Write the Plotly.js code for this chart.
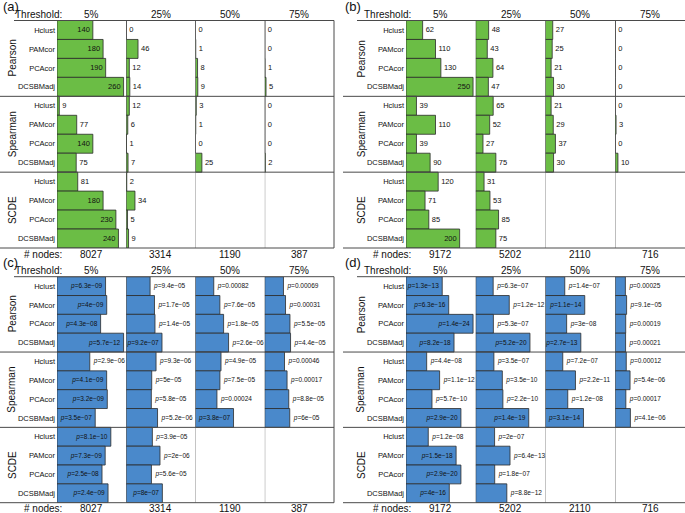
<!DOCTYPE html>
<html><head><meta charset="utf-8">
<script src="https://cdn.plot.ly/plotly-3.0.1.min.js"></script>
<style>html,body{margin:0;padding:0;background:#fff}</style>
</head><body><div id="chart" style="width:685px;height:513px"></div>
<script>
// ---------- data ----------
const methods = ["Hclust","PAMcor","PCAcor","DCSBMadj"];
const groups = ["Pearson","Spearman","SCDE"];
const thresholds = ["5%","25%","50%","75%"];
const nodesA = [8027,3314,1190,387];
const nodesB = [9172,5202,2110,716];

// rows: Pearson(Hclust,PAMcor,PCAcor,DCSBMadj), Spearman(...), SCDE(...)
const countsA5  = [140,180,190,260, 9,77,140,75, 81,180,230,240];
const countsA25 = [0,46,12,14, 12,6,1,7, 2,34,5,9];
const countsA50 = [0,1,8,9, 3,1,0,25, null,null,null,null];
const countsA75 = [0,0,1,5, 0,0,0,2, null,null,null,null];

const countsB5  = [62,110,130,250, 39,110,39,90, 120,71,85,200];
const countsB25 = [48,43,64,47, 65,52,27,75, 31,53,85,75];
const countsB50 = [27,25,21,30, 21,29,37,30, null,null,null,null];
const countsB75 = [0,0,0,0, 0,3,0,10, null,null,null,null];

const pvalsC5  = ["6.3e-09","4e-09","4.3e-08","5.7e-12", "2.9e-06","4.1e-09","3.2e-09","3.5e-07", "8.1e-10","7.3e-09","2.5e-08","2.4e-09"];
const pvalsC25 = ["9.4e-05","1.7e-05","1.4e-05","9.2e-07", "9.3e-06","5e-05","5.8e-05","5.2e-06", "3.9e-05","2e-06","5.6e-05","8e-07"];
const pvalsC50 = ["0.00082","7.6e-05","1.8e-05","2.6e-06", "4.9e-05","7.5e-05","0.00024","3.8e-07", null,null,null,null];
const pvalsC75 = ["0.00069","0.00031","5.5e-05","4.4e-05", "0.00046","0.00017","8.8e-05","6e-05", null,null,null,null];

const pvalsD5  = ["1.3e-13","6.3e-16","1.4e-24","8.2e-18", "4.4e-08","1.1e-12","5.7e-10","2.9e-20", "1.2e-08","1.5e-18","2.9e-20","4e-16"];
const pvalsD25 = ["6.3e-07","1.2e-12","5.3e-07","5.2e-20", "3.5e-07","3.5e-10","2.2e-10","1.4e-19", "2e-07","6.4e-13","1.8e-07","8.8e-12"];
const pvalsD50 = ["1.4e-07","1.1e-14","3e-08","2.7e-13", "7.2e-07","2.2e-11","1.2e-08","3.1e-14", null,null,null,null];
const pvalsD75 = ["0.00025","9.1e-05","0.00019","0.00021", "0.00012","5.4e-06","0.00017","4.1e-06", null,null,null,null];

// ---------- layout helpers ----------
const W = 685, H = 513;
const FONT = "Liberation Sans, Arial, Helvetica, sans-serif";
const GREEN = "#6bbd45", BLUE = "#4a89cb";

const panels = [
  {letter:"(a)", cols:[countsA5,countsA25,countsA50,countsA75], kind:"count", color:GREEN, left:57, right:334, top:20.5, bottom:248, nodes:nodesA, frame:0, letterX:1},
  {letter:"(b)", cols:[countsB5,countsB25,countsB50,countsB75], kind:"count", color:GREEN, left:406, right:685, top:20.5, bottom:248, nodes:nodesB, frame:343, letterX:343},
  {letter:"(c)", cols:[pvalsC5,pvalsC25,pvalsC50,pvalsC75], kind:"p", color:BLUE, left:57, right:334, top:276.7, bottom:502.7, nodes:nodesA, frame:0, letterX:1},
  {letter:"(d)", cols:[pvalsD5,pvalsD25,pvalsD50,pvalsD75], kind:"p", color:BLUE, left:406, right:685, top:276.7, bottom:502.7, nodes:nodesB, frame:343, letterX:343}
];

const px = v => v / W;
const py = v => (H - v) / H;

const rowLabels = [];
groups.forEach(() => methods.forEach(m => rowLabels.push(m)));
const rowIdx = rowLabels.map((_, i) => i);

const traces = [], shapes = [], annotations = [];
const layout = {
  width: W, height: H, margin: {l:0, r:0, t:0, b:0},
  paper_bgcolor: "#fff", plot_bgcolor: "rgba(0,0,0,0)",
  showlegend: false, bargap: 0, font: {family: FONT, color: "#111"}
};

panels.forEach((p, k) => {
  const yName = "y" + (k === 0 ? "" : (k + 1));
  const yKey = "yaxis" + (k === 0 ? "" : (k + 1));
  const lengths = p.cols.map(col => col.map(v => v === null ? null : (p.kind === "p" ? -Math.log10(parseFloat(v)) : v)));
  let mx = 0;
  lengths.forEach(col => col.forEach(v => { if (v !== null && v > mx) mx = v; }));
  const rangeMax = mx * 1.04;
  const cw = (p.right - p.left) / 4;
  const rh = (p.bottom - p.top) / 12;

  layout[yKey] = {
    domain: [py(p.bottom), py(p.top)], range: [11.5, -0.5],
    tickvals: rowIdx, ticktext: rowLabels, tickfont: {size: 7.5, family: FONT, color: "#111"},
    ticks: "", showgrid: false, zeroline: false, showline: false,
    anchor: "x" + (4 * k + 1), fixedrange: true, ticklabelstandoff: 1
  };

  p.cols.forEach((col, c) => {
    const n = 4 * k + c + 1;
    const xName = "x" + (n === 1 ? "" : n);
    const xKey = "xaxis" + (n === 1 ? "" : n);
    const x0 = p.left + c * cw;
    layout[xKey] = {
      domain: [px(x0), Math.min(1, px(x0 + cw))], range: [0, rangeMax],
      showgrid: false, zeroline: false, showline: false, showticklabels: false, ticks: "",
      anchor: yName, fixedrange: true
    };
    const len = lengths[c];
    const text = col.map(v => v === null ? "" : (p.kind === "p" ? "<i>p</i>=" + v.replace("-", "\u2212") : String(v)));
    const pos = len.map(v => (v !== null && v > rangeMax / 2) ? "inside" : "outside");
    const tsize = p.kind === "p" ? 6.5 : 7.5;
    traces.push({
      type: "bar", orientation: "h", x: len, y: rowIdx, xaxis: xName, yaxis: yName,
      width: 1, marker: {color: p.color, line: {color: "#2b2b2b", width: 0.8}},
      text: text, textposition: pos, insidetextanchor: "end",
      insidetextfont: {size: tsize, family: FONT, color: "#111"},
      outsidetextfont: {size: tsize, family: FONT, color: "#111"},
      constraintext: "none", cliponaxis: false, hoverinfo: "skip"
    });
    // zero line of this column
    shapes.push({type: "line", xref: xName, yref: "paper", x0: 0, x1: 0,
      y0: py(p.bottom), y1: py(p.top), line: {color: "#8a8a8a", width: 1}, layer: "below"});
    // threshold label and node count
    annotations.push({xref: "paper", yref: "paper", x: px(x0 + cw / 2), y: py(p.top - 6),
      text: thresholds[c], showarrow: false, xanchor: "center", yanchor: "middle", font: {size: 10, family: FONT}});
    annotations.push({xref: "paper", yref: "paper", x: px(x0 + cw / 2), y: py(p.bottom + 6),
      text: String(p.nodes[c]), showarrow: false, xanchor: "center", yanchor: "middle", font: {size: 10, family: FONT}});
  });

  // frame lines
  const lineStyle = {color: "#4a4a4a", width: 1};
  shapes.push({type: "line", xref: "paper", yref: "paper", x0: px(p.frame + 14), x1: px(p.right), y0: py(p.top), y1: py(p.top), line: lineStyle});
  shapes.push({type: "line", xref: "paper", yref: "paper", x0: px(p.frame), x1: px(p.right), y0: py(p.bottom), y1: py(p.bottom), line: lineStyle});
  [4, 8].forEach(r => shapes.push({type: "line", xref: "paper", yref: "paper", x0: px(p.frame), x1: px(p.right),
    y0: py(p.top + r * rh), y1: py(p.top + r * rh), line: lineStyle}));
  if (p.right < W) shapes.push({type: "line", xref: "paper", yref: "paper", x0: px(p.right), x1: px(p.right),
    y0: py(p.bottom), y1: py(p.top), line: lineStyle});

  // group labels
  groups.forEach((g, gi) => annotations.push({xref: "paper", yref: "paper", x: px(p.left - 45), y: py(p.top + (gi * 4 + 2) * rh),
    text: g, textangle: -90, showarrow: false, xanchor: "center", yanchor: "middle", font: {size: 10, family: FONT}}));

  annotations.push({xref: "paper", yref: "paper", x: px(p.letterX), y: py(p.top - 14.5), text: p.letter,
    showarrow: false, xanchor: "left", yanchor: "middle", font: {size: 13, family: FONT}});
  annotations.push({xref: "paper", yref: "paper", x: px(p.left + 7), y: py(p.top - 6), text: "Threshold:",
    showarrow: false, xanchor: "right", yanchor: "middle", font: {size: 10, family: FONT}});
  annotations.push({xref: "paper", yref: "paper", x: px(p.left + 7), y: py(p.bottom + 6), text: "# nodes:",
    showarrow: false, xanchor: "right", yanchor: "middle", font: {size: 10, family: FONT}});
});

layout.shapes = shapes;
layout.annotations = annotations;
Plotly.newPlot("chart", traces, layout, {staticPlot: true, displayModeBar: false});
</script></body></html>
